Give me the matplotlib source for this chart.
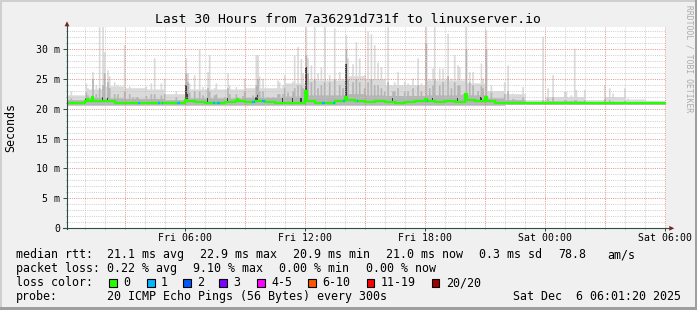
import numpy as np
import matplotlib
matplotlib.use("Agg")
import matplotlib.pyplot as plt
from matplotlib.patches import Rectangle, Polygon
from matplotlib.lines import Line2D

# ---------------- data (hours counted from Fri 00:00) ----------------
base_hi = [22.3, 23.3, 23.8, 23.5, 23.3, 22.5, 23.3, 23.3, 23.3, 23.5,
           23.5, 24.3, 24.8, 24.8, 25.5, 25.0, 24.0, 24.0, 24.8, 24.8,
           24.3, 23.0, 22.5, 21.5, 22.0, 22.0, 21.5, 22.0, 21.6, 21.4]
base_mid = [21.5, 21.9, 21.8, 21.7, 21.7, 21.5, 21.8, 21.8, 21.8, 21.9,
            21.9, 22.1, 22.3, 22.3, 22.5, 22.3, 22.2, 22.2, 22.3, 22.3,
            22.3, 21.8, 21.5, 21.2, 21.3, 21.3, 21.2, 21.2, 21.2, 21.1]
base_lo = [20.6] * 22 + [20.7] * 8

spike_hour = [0.25, 1.0, 1.1, 1.35, 1.5, 1.7, 1.8, 1.95, 2.1, 2.2, 2.4, 2.6, 2.95, 3.15, 3.3, 3.5, 3.6,
              4.0, 4.25, 4.45, 4.75, 4.95,
              5.5, 6.0, 6.05, 6.2, 6.4, 6.65, 6.85, 7.05, 7.15, 7.4, 7.5, 7.9, 8.05, 8.2, 8.5, 8.8,
              8.95, 9.3, 9.5, 9.6, 9.7, 9.8,
              10.1, 10.3, 10.55, 10.7, 10.85, 10.95, 11.1, 11.3, 11.45, 11.6, 11.75, 11.85, 12.0,
              12.05, 12.25, 12.45, 12.6, 12.75, 12.95, 13.2, 13.45, 13.7, 13.85, 14.0, 14.1, 14.3,
              14.5, 14.7, 14.9,
              15.1, 15.25, 15.4, 15.6, 15.75, 15.9, 16.05, 16.3, 16.45, 16.6, 16.9, 17.1, 17.3,
              17.55, 17.75, 17.97, 18.15, 18.3, 18.45, 18.65, 18.8, 19.05, 19.25, 19.4, 19.55,
              19.7, 19.85, 19.97,
              20.15, 20.35, 20.55, 20.75, 20.85, 21.0, 21.25, 21.6, 21.95, 22.1, 22.3, 22.45,
              22.8, 23.85, 24.05, 24.3, 24.95,
              25.0, 25.25, 25.38, 25.5, 25.95, 26.95, 27.2, 27.3, 27.95, 28.1, 28.65]
spike_hi = [23.0, 24.3, 23.5, 26.2, 24.0, 33.9, 33.9, 29.5, 26.5, 25.5, 24.5, 24.0, 30.7, 23.8, 23.5, 23.0, 23.3,
            23.8, 24.3, 28.5, 24.3, 25.1,
            23.0, 28.5, 26.0, 24.3, 25.7, 29.9, 23.7, 26.2, 29.0, 23.5, 24.3, 23.0, 26.0, 24.0, 23.7, 23.0,
            25.1, 23.5, 29.0, 29.0, 25.5, 25.1,
            23.5, 23.3, 24.8, 24.5, 24.0, 25.7, 24.3, 24.6, 29.0, 30.4, 28.4, 26.0, 33.9,
            28.5, 27.3, 33.9, 26.0, 27.0, 33.9, 25.7, 33.5, 26.2, 25.0, 32.4, 28.5, 27.5,
            31.2, 28.5, 25.7,
            33.0, 32.5, 30.7, 27.8, 27.0, 24.0, 33.9, 24.0, 24.5, 26.2, 24.6, 24.3, 25.1,
            28.5, 24.3, 33.9, 25.0, 26.8, 33.9, 26.8, 26.8, 32.6, 25.1, 29.0, 27.3,
            27.0, 23.0, 33.9,
            26.2, 26.2, 24.0, 27.6, 25.1, 33.2, 24.0, 22.3, 24.5, 27.3, 22.6, 22.3,
            23.7, 32.1, 23.5, 25.7, 22.9,
            22.9, 22.3, 30.1, 23.2, 23.2, 24.0, 23.5, 22.6, 23.5, 21.8, 21.5]
spike_mid = [21.8, 22.8, 22.3, 25.0, 22.5, 23.5, 24.0, 26.0, 24.5, 23.5, 22.5, 22.5, 23.0, 22.5, 22.0, 22.0, 22.0,
             22.2, 22.5, 22.5, 22.3, 22.5,
             22.0, 26.0, 24.5, 22.8, 23.0, 23.0, 22.3, 23.5, 23.0, 22.3, 22.5, 22.0, 23.5, 22.5, 22.5, 22.2,
             23.0, 22.3, 24.0, 25.0, 23.0, 23.0,
             22.0, 22.0, 22.5, 22.5, 22.5, 23.5, 22.8, 23.0, 23.5, 24.0, 24.0, 23.5, 29.0,
             26.0, 24.5, 25.0, 23.5, 24.0, 24.5, 24.5, 25.0, 24.0, 23.5, 30.0, 25.0, 24.5,
             25.0, 24.5, 23.5,
             24.5, 25.0, 24.0, 24.0, 23.5, 23.0, 24.5, 23.0, 23.0, 23.5, 23.0, 23.0, 23.5,
             24.0, 23.0, 31.0, 23.5, 24.0, 25.0, 24.0, 24.5, 25.5, 23.5, 24.5, 24.0,
             24.0, 22.5, 30.0,
             24.5, 24.0, 23.0, 24.0, 23.5, 30.0, 22.8, 21.8, 22.5, 23.0, 21.7, 21.6,
             22.0, 21.5, 21.8, 22.0, 21.5,
             21.5, 21.4, 21.5, 21.5, 21.5, 21.6, 21.5, 21.3, 21.4, 21.2, 21.2]
spike_dark = [0, 21.8, 21.8, 23.5, 21.8, 21.9, 22.0, 22.5, 22.0, 21.8, 21.7, 21.7, 21.8, 21.7, 0, 0, 21.6,
              21.7, 21.7, 21.7, 21.7, 21.8,
              0, 24.0, 22.5, 21.8, 21.8, 21.8, 0, 21.8, 21.8, 0, 21.7, 0, 21.8, 21.7, 21.8, 0,
              21.8, 21.7, 22.0, 22.2, 21.8, 21.8,
              0, 0, 21.7, 0, 21.7, 21.8, 21.7, 21.8, 21.8, 22.0, 21.8, 21.8, 27.0,
              23.5, 22.0, 22.0, 21.8, 21.8, 22.0, 22.5, 22.0, 21.8, 21.8, 27.5, 22.5, 22.0,
              22.0, 22.0, 21.8,
              22.0, 22.0, 21.8, 21.8, 21.8, 21.7, 22.0, 21.7, 21.7, 21.8, 21.7, 21.7, 21.8,
              21.8, 21.7, 28.0, 21.8, 21.8, 22.0, 21.8, 22.0, 22.0, 21.8, 22.0, 21.8,
              21.8, 0, 27.0,
              22.5, 22.2, 21.9, 22.0, 21.9, 27.0, 21.8, 0, 21.6, 21.6, 0, 0,
              0, 0, 0, 21.5, 0,
              0, 0, 0, 0, 0, 0, 0, 0, 0, 0, 0]

# median rtt, one value per half hour
med_halfhour = [20.9, 20.9, 21.3, 21.3, 21.2, 21.0, 21.0, 21.0, 21.0, 21.0,
                21.0, 20.9, 21.2, 21.1, 21.0, 21.0, 21.1, 21.2, 21.1, 21.2,
                21.1, 21.0, 21.0, 21.0, 21.2, 21.0, 21.0, 21.2, 21.4, 21.2,
                21.1, 21.2, 21.1, 21.0, 21.1, 21.2, 21.2, 21.1, 21.2, 21.1,
                21.4, 21.3, 21.2, 20.9, 20.9, 20.9, 20.9, 20.9, 20.9, 21.0,
                20.9, 20.9, 21.0, 20.9, 21.0, 20.9, 20.9, 21.0, 20.9, 20.9]
bump_hour = [1.1, 1.35, 6.0, 8.6, 12.0, 14.0, 18.0, 20.0, 21.0]
bump_med = [21.6, 22.0, 21.5, 21.6, 22.9, 22.0, 21.6, 22.4, 22.0]
loss1_hour = [3.7, 4.7, 4.8, 5.55, 5.65, 7.45, 7.55, 7.65, 9.3, 9.4, 9.8, 9.9,
              12.85, 12.95, 13.4, 13.95, 14.6, 18.1]

x_label_hours = [6, 12, 18, 24, 30]
x_labels = ['Fri 06:00', 'Fri 12:00', 'Fri 18:00', 'Sat 00:00', 'Sat 06:00']
y_tick_vals = [0, 5, 10, 15, 20, 25, 30]
y_tick_labels = ['0', '5 m', '10 m', '15 m', '20 m', '25 m', '30 m']

title = 'Last 30 Hours from 7a36291d731f to linuxserver.io'
rtt_items = ['median rtt:', '21.1 ms avg', '22.9 ms max', '20.9 ms min', '21.0 ms now',
             '0.3 ms sd', '78.8', 'am/s']
loss_items = ['packet loss:', '0.22 % avg', '9.10 % max', '0.00 % min', '0.00 % now']
loss_labels = ['0', '1', '2', '3', '4-5', '6-10', '11-19', '20/20']
loss_colors = ['#26ff00', '#00b8ff', '#0059ff', '#7e00ff', '#ff00ff', '#ff5500', '#ff0000', '#a10000']
probe_items = ['probe:', '20 ICMP Echo Pings (56 Bytes) every 300s', 'Sat Dec  6 06:01:20 2025']

# ---------------- build per-step series (5 min steps) ----------------
n = 360
edges = np.arange(n + 1) / 12.0
hidx = np.arange(n) // 12
hi = np.array(base_hi)[hidx]
mid = np.array(base_mid)[hidx]
lo = np.array(base_lo)[hidx]
dark = np.zeros(n)
for h, a, b, c in zip(spike_hour, spike_hi, spike_mid, spike_dark):
    i = min(int(round(h * 12)), n - 1)
    hi[i] = max(hi[i], a)
    mid[i] = max(mid[i], b)
    dark[i] = max(dark[i], c)
med = np.array(med_halfhour)[np.arange(n) // 6]
for h, v in zip(bump_hour, bump_med):
    med[min(int(round(h * 12)), n - 1)] = v
loss = np.zeros(n, dtype=int)
for h in loss1_hour:
    loss[min(int(round(h * 12)), n - 1)] = 1

def ext(a):
    return np.append(a, a[-1])

# ---------------- figure ----------------
plt.rcParams['font.family'] = ['DejaVu Sans Mono']
W, H = 697, 310
fig = plt.figure(figsize=(W / 100, H / 100), dpi=100, facecolor='#F0F0F0')

def fx(x):
    return x / W

def fy(y):
    return 1 - y / H

AX_L, AX_R, AX_T, AX_B = 67, 665.5, 26.7, 228.3
ax = fig.add_axes([fx(AX_L), fy(AX_B), (AX_R - AX_L) / W, (AX_B - AX_T) / H])
ax.set_facecolor('white')
ax.set_xlim(0.1, 30.02)
ax.set_ylim(0, 33.7)

# smoke
ax.fill_between(edges, ext(lo), ext(hi), step='post', color='#DADADA', lw=0, zorder=1)
ax.fill_between(edges, ext(lo), ext(mid), step='post', color='#B4B4B4', lw=0, zorder=1.1)
dbase = med - 0.1
ax.fill_between(edges, ext(dbase), ext(np.where(dark > 0, dark, dbase)), where=ext(dark > 0),
                step='post', color='#3C3C3C', lw=0, zorder=1.2)

# grid (dotted)
for h in range(1, 31):
    major = h % 3 == 0
    ax.axvline(h, color='#E07070' if major else '#C4C4C4', lw=0.72, ls=(0, (1, 1.2)),
               alpha=0.75 if major else 0.8, zorder=2)
for v in range(1, 34):
    major = v % 5 == 0
    ax.axhline(v, color='#E07070' if major else '#C4C4C4', lw=0.72, ls=(0, (1, 1.2)),
               alpha=0.75 if major else 0.8, zorder=2)

# median line
ax.step(edges, ext(med), where='post', color=loss_colors[0], lw=1.6, zorder=3,
        solid_joinstyle='miter')
for i in np.nonzero(loss == 1)[0]:
    ax.plot([edges[i], edges[i + 1]], [med[i], med[i]], color=loss_colors[1], lw=1.6,
            zorder=3.1, solid_capstyle='butt')

# ticks
for s in ax.spines.values():
    s.set_visible(False)
AXC = '#2C4D43'
ax.set_xticks(x_label_hours)
ax.set_xticklabels(x_labels)
ax.set_xticks(np.arange(1, 31), minor=True)
ax.set_yticks(y_tick_vals)
ax.set_yticklabels(y_tick_labels)
ax.set_yticks(np.arange(1, 34), minor=True)
ax.tick_params(axis='both', which='major', labelsize=7.1, color=AXC, width=0.7)
ax.tick_params(axis='x', which='major', length=2.5, pad=1)
ax.tick_params(axis='y', which='major', length=2.9, pad=2.2)
ax.tick_params(axis='both', which='minor', length=1.0, color='#6F7F7A', width=0.6)

# axes lines + arrows (figure pixel coords)
fig.add_artist(Line2D([fx(AX_L), fx(AX_L)], [fy(AX_B + 1), fy(25)], color=AXC, lw=0.8))
fig.add_artist(Line2D([fx(63), fx(670)], [fy(AX_B), fy(AX_B)], color=AXC, lw=0.8))
fig.add_artist(Polygon([(fx(64.6), fy(26.3)), (fx(69.4), fy(26.3)), (fx(67), fy(21.3))],
                       closed=True, color='#7F1F1F', lw=0))
fig.add_artist(Polygon([(fx(669.3), fy(225.9)), (fx(669.3), fy(230.7)), (fx(674.3), fy(228.3))],
                       closed=True, color='#7F1F1F', lw=0))

# texts
fig.text(fx(347.5), fy(23.3), title, fontsize=9.35, ha='center', va='baseline')
fig.text(fx(11), fy(128), 'Seconds', fontsize=8.4, rotation=90, ha='center', va='center')
fig.text(fx(689), fy(5), 'RRDTOOL / TOBI OETIKER', fontsize=5.8, rotation=270,
         ha='center', va='top', color='#ABABAB')

LFS = 8.37
for x, s in zip([16, 107, 200, 293, 386, 479, 558, 607], rtt_items):
    fig.text(fx(x), fy(258.3), s, fontsize=LFS, ha='left', va='baseline')
for x, s in zip([16, 107, 193, 279, 366], loss_items):
    fig.text(fx(x), fy(272.3), s, fontsize=LFS, ha='left', va='baseline')
fig.text(fx(16), fy(286.3), 'loss color:', fontsize=LFS, ha='left', va='baseline')
for x, s, c in zip([123, 161, 197, 233, 271, 322, 381, 446], loss_labels, loss_colors):
    fig.add_artist(Rectangle((fx(x - 14), fy(286.5)), 7.5 / W, 8 / H, transform=fig.transFigure,
                             facecolor=c, edgecolor='black', lw=0.8))
    fig.text(fx(x), fy(286.3), s, fontsize=LFS, ha='left', va='baseline')
for x, s in zip([16, 107, 513], probe_items):
    fig.text(fx(x), fy(300), s, fontsize=LFS, ha='left', va='baseline')

# 3D border
def frect(x0, y0, w, h, c):
    fig.add_artist(Rectangle((fx(x0), fy(y0 + h)), w / W, h / H, transform=fig.transFigure,
                             facecolor=c, edgecolor='none', lw=0))

frect(0, 0, W, 2, '#CFCFCF')
frect(0, 0, 2, H, '#CFCFCF')
frect(0, H - 3, W, 3, '#9E9E9E')
frect(W - 2, 0, 2, H, '#9E9E9E')

fig.savefig('out.png', dpi=100, facecolor=fig.get_facecolor())
